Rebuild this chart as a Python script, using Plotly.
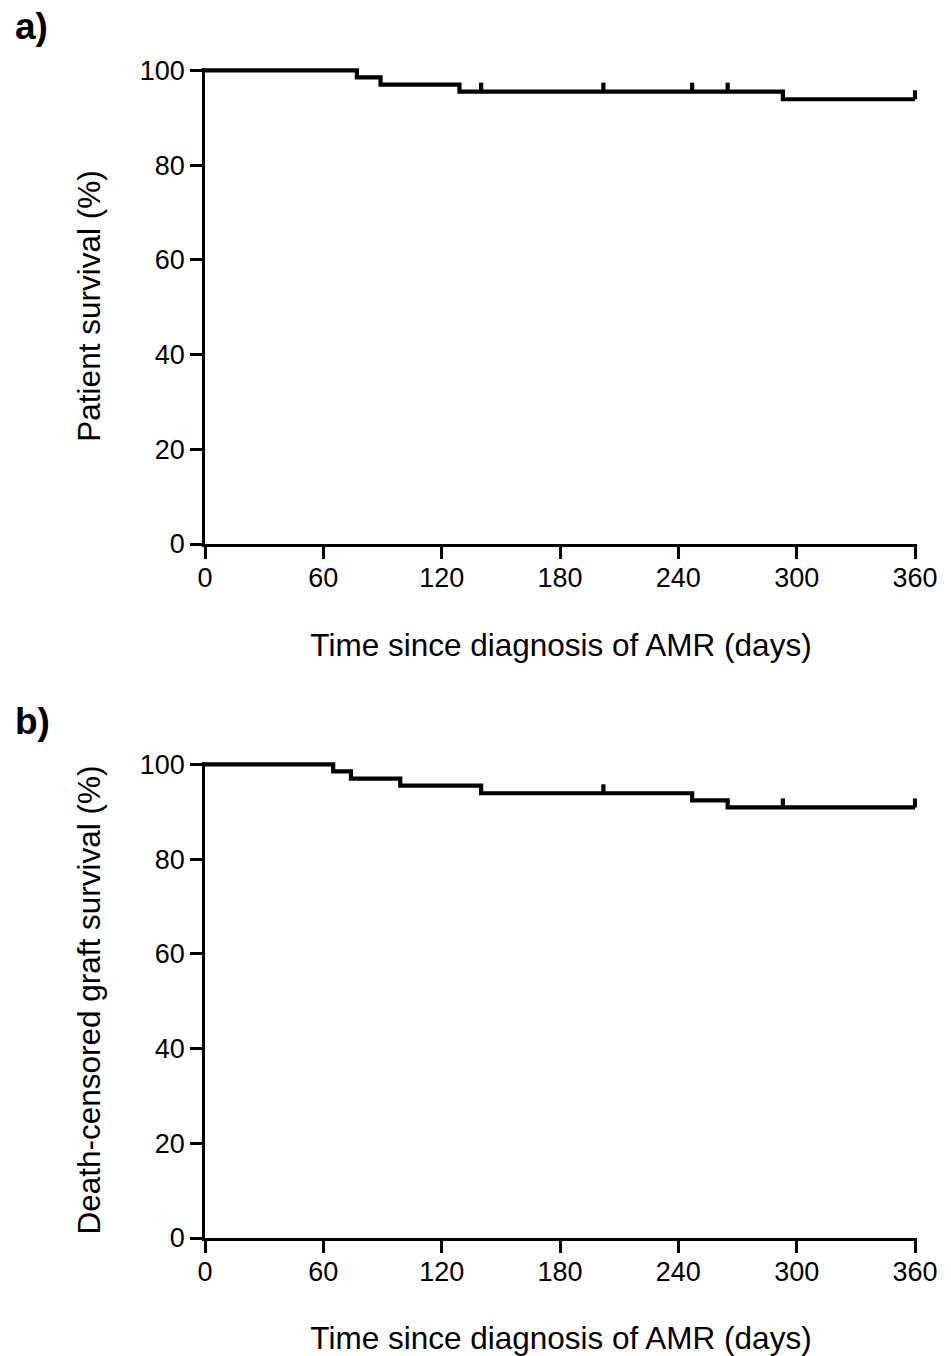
import plotly.graph_objects as go

# Panel a: patient survival (Kaplan-Meier)
a_event_days = [0, 77, 89, 129, 293, 360]
a_survival = [100, 98.5, 97.0, 95.5, 93.9, 93.9]
a_censor_days = [140, 202, 247, 265, 360]

# Panel b: death-censored graft survival
b_event_days = [0, 65, 74, 99, 140, 247, 265, 360]
b_survival = [100, 98.5, 97.0, 95.5, 93.9, 92.4, 90.9, 90.9]
b_censor_days = [202, 293, 360]

x_ticks = [0, 60, 120, 180, 240, 300, 360]
y_ticks = [0, 20, 40, 60, 80, 100]
x_title = "Time since diagnosis of AMR (days)"
a_ytitle = "Patient survival (%)"
b_ytitle = "Death-censored graft survival (%)"

W, H = 951, 1356
TICK_H = 1.9  # censor tick height in %


def px_x(p):
    return p / W


def px_y(p):
    return 1 - p / H


def level_at(days, surv, t):
    s = surv[0]
    for d, v in zip(days, surv):
        if d <= t:
            s = v
    return s


def censor_segments(days, surv, cens):
    xs, ys = [], []
    for t in cens:
        s = level_at(days, surv, t)
        xs += [t, t, None]
        ys += [s, s + TICK_H, None]
    return xs, ys


fig = go.Figure()
line_style = dict(color="black", width=4.2)

for days, surv, cens, xa, ya in [
    (a_event_days, a_survival, a_censor_days, "x", "y"),
    (b_event_days, b_survival, b_censor_days, "x2", "y2"),
]:
    fig.add_trace(go.Scatter(x=days, y=surv, mode="lines", line=dict(shape="hv", **line_style),
                             xaxis=xa, yaxis=ya, showlegend=False, hoverinfo="skip"))
    cx, cy = censor_segments(days, surv, cens)
    fig.add_trace(go.Scatter(x=cx, y=cy, mode="lines", line=line_style,
                             xaxis=xa, yaxis=ya, showlegend=False, hoverinfo="skip"))

FAM = "Liberation Sans, Arial, sans-serif"
tick_font = dict(family=FAM, size=27, color="black")
title_font = dict(family=FAM, size=31.5, color="black")
label_font = dict(family=FAM, size=37, color="black")

x_dom = [px_x(205), px_x(917)]
ya_dom = [px_y(544), px_y(68)]
yb_dom = [px_y(1238), px_y(762)]

axis_common = dict(showline=True, linecolor="black", linewidth=2.5, ticks="outside",
                   ticklen=12, tickwidth=2.5, tickcolor="black", showgrid=False,
                   zeroline=False, tickfont=tick_font, automargin=False)
xcommon = dict(range=[0, 361], tickvals=x_ticks, ticklabelstandoff=-4, **axis_common)
ycommon = dict(range=[0, 100.5], tickvals=y_ticks, ticklabelstandoff=0, **axis_common)

fig.update_layout(
    width=W, height=H,
    margin=dict(l=0, r=0, t=0, b=0),
    paper_bgcolor="white", plot_bgcolor="white",
    font=tick_font,
    xaxis=dict(domain=x_dom, anchor="y",
               title=dict(text=x_title, font=title_font, standoff=42), **xcommon),
    yaxis=dict(domain=ya_dom, anchor="x",
               title=dict(text=a_ytitle, font=title_font, standoff=30), **ycommon),
    xaxis2=dict(domain=x_dom, anchor="y2",
                title=dict(text=x_title, font=title_font, standoff=42), **xcommon),
    yaxis2=dict(domain=yb_dom, anchor="x2",
                title=dict(text=b_ytitle, font=title_font, standoff=30), **ycommon),
    annotations=[
        dict(text="<b>a)</b>", x=px_x(13), y=px_y(27), xref="paper", yref="paper",
             xanchor="left", yanchor="middle", showarrow=False, font=label_font),
        dict(text="<b>b)</b>", x=px_x(13), y=px_y(721), xref="paper", yref="paper",
             xanchor="left", yanchor="middle", showarrow=False, font=label_font),
    ],
)

fig.write_html("out.html", config={"displayModeBar": False},
               post_script="document.body.style.margin='0';")
